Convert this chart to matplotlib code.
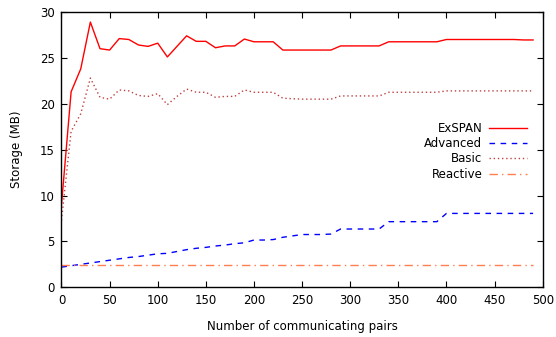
import numpy as np
import matplotlib.pyplot as plt

# communicating pairs, sampled every 10
pairs = np.arange(0, 500, 10)

exspan = [9.0, 21.3, 23.8, 28.9, 26.0, 25.85, 27.1, 27.0, 26.4, 26.25,
          26.6, 25.1, 26.25, 27.4, 26.8, 26.8, 26.1, 26.3, 26.3, 27.05,
          26.75, 26.75, 26.75, 25.85, 25.85, 25.85, 25.85, 25.85, 25.85, 26.3,
          26.3, 26.3, 26.3, 26.3, 26.75, 26.75, 26.75, 26.75, 26.75, 26.75,
          27.0, 27.0, 27.0, 27.0, 27.0, 27.0, 27.0, 27.0, 26.95, 26.95]

advanced = [2.2, 2.35, 2.5, 2.65, 2.8, 2.95, 3.1, 3.25, 3.35, 3.5,
            3.65, 3.7, 3.9, 4.1, 4.25, 4.35, 4.5, 4.6, 4.75, 4.85,
            5.15, 5.15, 5.2, 5.45, 5.6, 5.75, 5.75, 5.75, 5.8, 6.35,
            6.35, 6.35, 6.35, 6.35, 7.15, 7.15, 7.15, 7.15, 7.15, 7.15,
            8.05, 8.05, 8.05, 8.05, 8.05, 8.05, 8.05, 8.05, 8.05, 8.05]

basic = [7.3, 17.0, 18.9, 22.8, 20.7, 20.5, 21.5, 21.4, 20.9, 20.8,
         21.1, 19.9, 20.8, 21.6, 21.25, 21.25, 20.7, 20.8, 20.8, 21.5,
         21.25, 21.25, 21.25, 20.6, 20.55, 20.5, 20.5, 20.5, 20.5, 20.85,
         20.85, 20.85, 20.85, 20.85, 21.25, 21.25, 21.25, 21.25, 21.25, 21.25,
         21.4, 21.4, 21.4, 21.4, 21.4, 21.4, 21.4, 21.4, 21.4, 21.4]

reactive = [2.4] * len(pairs)

plt.rcParams['font.family'] = 'DejaVu Sans'
plt.rcParams['font.size'] = 8.5

fig = plt.figure(figsize=(5.56, 3.37), dpi=100)
ax = fig.add_axes([0.1106, 0.1475, 0.8655, 0.817])

ax.plot(pairs, exspan, color='#ff0000', lw=1.0, label='ExSPAN')
ax.plot(pairs, advanced, color='#0000ff', lw=1.0, linestyle=(0, (4, 4)), label='Advanced')
ax.plot(pairs, basic, color='#c04040', lw=1.0, linestyle=(0, (1, 2)), label='Basic')
ax.plot(pairs, reactive, color='#ff7f50', lw=1.0, linestyle=(0, (6, 3, 1, 3)), label='Reactive')

ax.set_xlim(0, 500)
ax.set_ylim(0, 30)
ax.set_xticks(np.arange(0, 501, 50))
ax.set_yticks(np.arange(0, 31, 5))
ax.tick_params(direction='in', top=True, right=True, length=4, width=0.8,
               labelsize=8.5, pad=5)
for s in ax.spines.values():
    s.set_linewidth(1.0)

ax.set_xlabel('Number of communicating pairs', fontsize=8.5, labelpad=9)
ax.set_ylabel('Storage (MB)', fontsize=8.5, labelpad=12)

ax.legend(loc='upper right', bbox_to_anchor=(0.99, 0.64), frameon=False,
          markerfirst=False, handlelength=3.2, labelspacing=0.2,
          handletextpad=0.6, fontsize=8.5)

fig.savefig('out.png', dpi=100)
